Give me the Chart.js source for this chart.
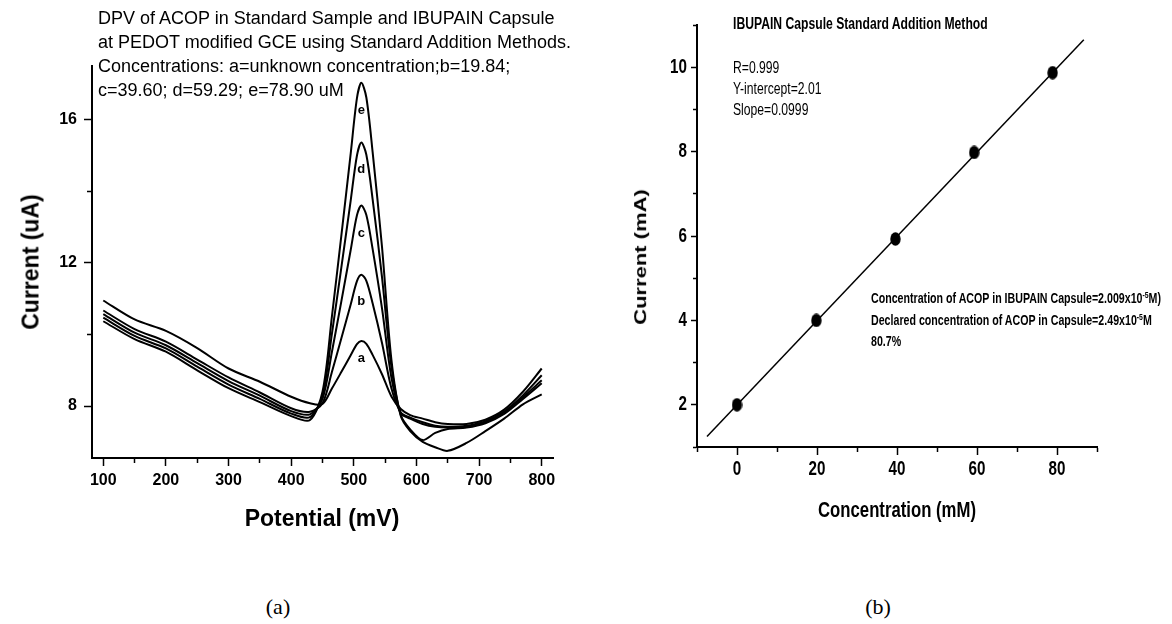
<!DOCTYPE html>
<html lang="en">
<head>
<meta charset="UTF-8" />
<title>DPV of ACOP - Standard Addition</title>
<style>
  body {
    margin: 0;
    background: #fff;
    color: #000;
    font-family: 'Liberation Sans', Arial, sans-serif;
  }
  #page {
    position: relative;
    width: 1172px;
    height: 624px;
    overflow: hidden;
  }
  .box {
    position: absolute;
    top: 0;
    height: 560px;
  }
  .txt {
    position: absolute;
    white-space: nowrap;
  }
  /* panel (b) text is horizontally squeezed in the original */
  .sq {
    transform: translateY(-50%) scaleX(0.76);
    transform-origin: left center;
  }
  .mid { transform: translate(-50%, -50%); }
  .midsq { transform: translate(-50%, -50%) scaleX(0.76); }
  .vert { transform: translate(-50%, -50%) rotate(-90deg); }
  .vertsq { transform: translate(-50%, -50%) rotate(-90deg) scaleY(0.76); }
  .caption {
    font-family: 'Liberation Serif', 'Times New Roman', serif;
    font-size: 22px;
  }
  sup { font-size: 9px; }
</style>
</head>
<body>
<div id="page">
  <div class="box" style="left:0; width:590px;"><canvas id="chartA"></canvas></div>
  <div class="box" style="left:600px; width:572px;"><canvas id="chartB"></canvas></div>

  <!-- panel (a) texts -->
  <div class="txt" style="left:98px; top:6px; font-size:18px; line-height:24px;">
    DPV of ACOP in Standard Sample and IBUPAIN Capsule<br>
    at PEDOT modified GCE using Standard Addition Methods.<br>
    Concentrations: a=unknown concentration;b=19.84;<br>
    c=39.60; d=59.29; e=78.90 uM
  </div>
  <div class="txt mid" style="left:322px; top:518px; font-size:23px; font-weight:bold;">Potential (mV)</div>
  <div class="txt vert" style="left:31px; top:262px; font-size:23px; font-weight:bold;">Current (uA)</div>
  <div class="txt mid caption" style="left:278px; top:607px;">(a)</div>

  <!-- panel (b) texts -->
  <div class="txt sq" style="left:733px; top:24px; font-size:16px; font-weight:bold;">IBUPAIN Capsule Standard Addition Method</div>
  <div class="txt sq" style="left:733px; top:68px; font-size:16px;">R=0.999</div>
  <div class="txt sq" style="left:733px; top:89px; font-size:16px;">Y-intercept=2.01</div>
  <div class="txt sq" style="left:733px; top:110px; font-size:16px;">Slope=0.0999</div>
  <div class="txt sq" style="left:871px; top:298px; font-size:14px; font-weight:bold;">Concentration of ACOP in IBUPAIN Capsule=2.009x10<sup>-5</sup>M)</div>
  <div class="txt sq" style="left:871px; top:320px; font-size:14px; font-weight:bold;">Declared concentration of ACOP in Capsule=2.49x10<sup>-5</sup>M</div>
  <div class="txt sq" style="left:871px; top:341px; font-size:14px; font-weight:bold;">80.7%</div>
  <div class="txt midsq" style="left:897px; top:510px; font-size:22px; font-weight:bold;">Concentration (mM)</div>
  <div class="txt vertsq" style="left:641px; top:257px; font-size:22px; font-weight:bold;">Current (mA)</div>
  <div class="txt mid caption" style="left:878px; top:607px;">(b)</div>
</div>

<script src="https://cdn.jsdelivr.net/npm/chart.js"></script>
<script>
  // panel (a): DPV curves, current (uA) vs potential (mV)
  const potential = [100,150,200,250,300,350,400,430,450,465,480,495,505,512,520,530,545,560,575,590,610,630,650,680,710,740,770,800];
  const curveA = [10.95,10.42,10.10,9.62,9.05,8.68,8.26,8.08,8.06,8.49,8.95,9.42,9.73,9.82,9.74,9.43,8.89,8.27,7.92,7.75,7.65,7.55,7.50,7.50,7.62,7.90,8.40,9.05];
  const curveB = [10.67,10.15,9.80,9.30,8.80,8.38,7.94,7.84,8.08,8.95,9.89,10.84,11.49,11.67,11.50,10.87,9.76,8.50,7.82,7.68,7.55,7.45,7.42,7.45,7.58,7.85,8.30,8.86];
  const curveC = [10.57,10.05,9.70,9.20,8.70,8.29,7.86,7.77,8.20,9.51,10.92,12.36,13.33,13.60,13.34,12.39,10.73,8.80,7.80,7.65,7.50,7.42,7.40,7.42,7.55,7.82,8.25,8.72];
  const curveD = [10.47,9.96,9.61,9.10,8.60,8.20,7.79,7.69,8.30,10.02,11.86,13.74,15.00,15.36,15.02,13.78,11.60,9.10,7.75,7.35,7.05,7.25,7.36,7.40,7.52,7.78,8.20,8.64];
  const curveE = [10.37,9.87,9.52,9.00,8.50,8.11,7.72,7.61,8.40,10.50,12.75,15.05,16.60,17.03,16.62,15.10,12.45,9.30,7.72,7.30,7.00,6.85,6.75,6.97,7.30,7.65,8.05,8.33];
  const curveNames = ['a','b','c','d','e'];
  const labelPotential = 512;
  const labelCurrent = [9.34, 10.92, 12.82, 14.6, 16.25];
  const potentialTicks = [100,200,300,400,500,600,700,800];
  const currentTicksA = [8,12,16];

  // panel (b): standard addition
  const concentration = [0, 19.84, 39.60, 59.29, 78.90];
  const currentMA = [2.00, 4.00, 5.93, 7.98, 9.87];
  const fitX = [-7.5, 86.7];
  const fitY = [1.25, 10.65];
  const concTicks = [0,20,40,60,80];
  const currentTicksB = [2,4,6,8,10];

  const sans = "'Liberation Sans', Arial, sans-serif";

  // labelled ticks get a full-length mark, the others a short one next to the axis.
  // bottom ticks are stroked from the axis outwards, left ticks from the outer end inwards.
  function axisStyle(tickLen, majors, side) {
    const s = Math.round(tickLen / 2);
    const minorDash = side === 'left' ? [0, tickLen - 1 - s, s, 40] : [s, 40];
    return {
      grid: {
        drawOnChartArea: false, drawTicks: true, tickLength: tickLen,
        tickColor: '#000', tickWidth: 1.5,
        tickBorderDash: c => (c.tick && majors.includes(c.tick.value)) ? [] : minorDash
      },
      border: { display: true, color: '#000', width: 2 }
    };
  }

  const peakLabels = {
    id: 'peakLabels',
    afterDatasetsDraw(chart) {
      const { ctx, scales: { x, y } } = chart;
      ctx.save();
      ctx.font = 'bold 13px ' + sans;
      ctx.fillStyle = '#000';
      ctx.textAlign = 'center';
      ctx.textBaseline = 'middle';
      curveNames.forEach((n, i) => {
        ctx.fillText(n, x.getPixelForValue(labelPotential), y.getPixelForValue(labelCurrent[i]));
      });
      ctx.restore();
    }
  };

  // squeezed tick labels for panel (b)
  const narrowTicks = {
    id: 'narrowTicks',
    afterDraw(chart) {
      const { ctx, scales: { x, y } } = chart;
      const put = (txt, px, py) => {
        ctx.save();
        ctx.translate(px, py);
        ctx.scale(0.76, 1);
        ctx.fillText(txt, 0, 0);
        ctx.restore();
      };
      ctx.save();
      ctx.font = 'bold 20px ' + sans;
      ctx.fillStyle = '#000';
      ctx.textBaseline = 'middle';
      ctx.textAlign = 'center';
      concTicks.forEach(v => put(String(v), x.getPixelForValue(v), x.top + 22));
      ctx.textAlign = 'right';
      currentTicksB.forEach(v => put(String(v), y.right - 10, y.getPixelForValue(v)));
      ctx.restore();
    }
  };

  // slightly tall dot, as in the original
  const dot = document.createElement('canvas');
  dot.width = 11; dot.height = 14;
  const dctx = dot.getContext('2d');
  dctx.fillStyle = '#000';
  dctx.beginPath();
  dctx.ellipse(5.5, 7, 5.2, 6.8, 0, 0, Math.PI * 2);
  dctx.fill();

  const curves = [curveA, curveB, curveC, curveD, curveE];

  new Chart(document.getElementById('chartA'), {
    type: 'line',
    data: {
      datasets: curves.map((c, k) => ({
        label: curveNames[k],
        data: potential.map((p, i) => ({ x: p, y: c[i] })),
        borderColor: '#000',
        borderWidth: 2,
        pointRadius: 0,
        tension: 0.3,
        fill: false
      }))
    },
    options: {
      responsive: true,
      maintainAspectRatio: false,
      animation: false,
      layout: { padding: { top: 66, right: 37, left: 0, bottom: 0 } },
      plugins: { legend: { display: false }, tooltip: { enabled: false } },
      scales: {
        x: {
          type: 'linear', min: 82, max: 818,
          afterFit: s => { s.height = 102; },
          ticks: {
            stepSize: 50, autoSkip: false, maxRotation: 0, includeBounds: false,
            padding: 5, color: '#000',
            font: { family: sans, size: 16, weight: 'bold' },
            callback: v => potentialTicks.includes(v) ? v : ''
          },
          ...axisStyle(8, potentialTicks, 'bottom')
        },
        y: {
          type: 'linear', min: 6.55, max: 17.5,
          afterFit: s => { s.width = 92; },
          ticks: {
            stepSize: 2, autoSkip: false, includeBounds: false,
            padding: 7, color: '#000',
            font: { family: sans, size: 16, weight: 'bold' },
            callback: v => currentTicksA.includes(v) ? v : ''
          },
          ...axisStyle(8, currentTicksA, 'left')
        }
      }
    },
    plugins: [peakLabels]
  });

  new Chart(document.getElementById('chartB'), {
    type: 'scatter',
    data: {
      datasets: [
        {
          type: 'line',
          data: fitX.map((v, i) => ({ x: v, y: fitY[i] })),
          borderColor: '#000',
          borderWidth: 1.5,
          pointRadius: 0,
          fill: false
        },
        {
          data: concentration.map((v, i) => ({ x: v, y: currentMA[i] })),
          pointStyle: dot,
          backgroundColor: '#000',
          borderColor: '#000',
          showLine: false
        }
      ]
    },
    options: {
      responsive: true,
      maintainAspectRatio: false,
      animation: false,
      layout: { padding: { top: 25, right: 75, left: 0, bottom: 0 } },
      plugins: { legend: { display: false }, tooltip: { enabled: false } },
      scales: {
        x: {
          type: 'linear', min: -10, max: 90,
          afterFit: s => { s.height = 113; },
          ticks: { stepSize: 10, autoSkip: false, includeBounds: false, display: false },
          ...axisStyle(8, concTicks, 'bottom')
        },
        y: {
          type: 'linear', min: 1, max: 11,
          afterFit: s => { s.width = 97; },
          ticks: { stepSize: 1, autoSkip: false, includeBounds: false, display: false },
          ...axisStyle(6, currentTicksB, 'left')
        }
      }
    },
    plugins: [narrowTicks]
  });
</script>
</body>
</html>
